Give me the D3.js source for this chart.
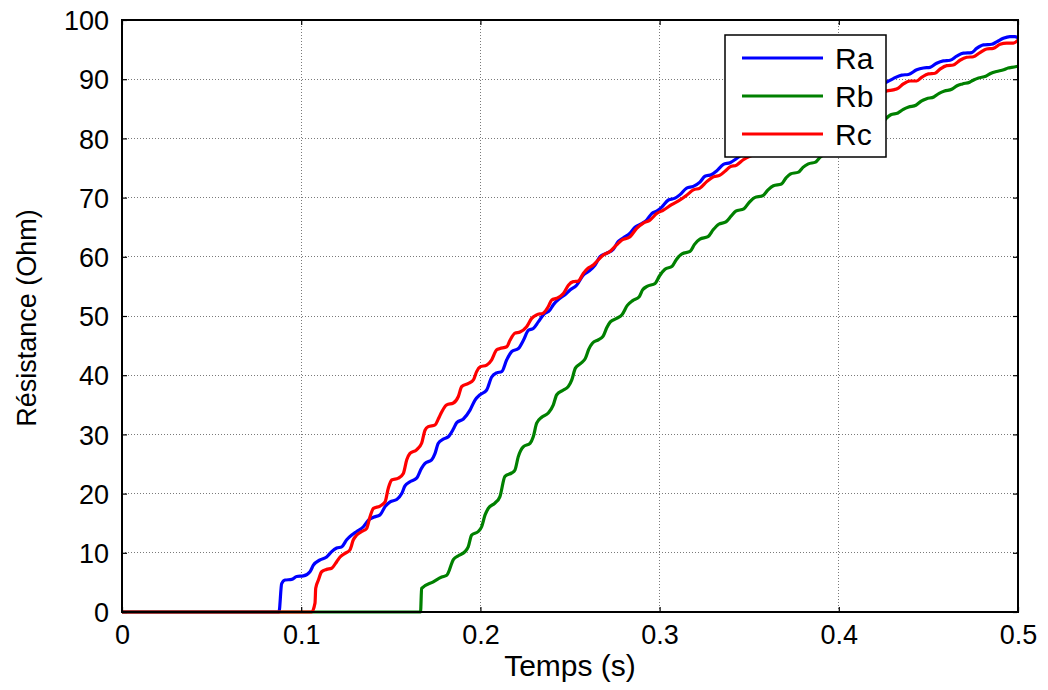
<!DOCTYPE html>
<html>
<head>
<meta charset="utf-8">
<script src="https://cdn.jsdelivr.net/npm/d3@7"></script>
<style>
  html, body { margin: 0; padding: 0; background: #fff; }
  svg { display: block; font-family: "Liberation Sans", Arial, Helvetica, sans-serif; }
</style>
</head>
<body>
<svg id="chart" width="1048" height="690"></svg>
<script>
// Phase resistances (Ohm) versus time (s)
const raTime = [0, 0.0876, 0.0891, 0.0910, 0.0947, 0.0975, 0.1012, 0.1049, 0.1068, 0.1105, 0.1142, 0.1170, 0.1198, 0.1226, 0.1254, 0.1282, 0.1310, 0.1347, 0.1375, 0.1403, 0.1440, 0.1468, 0.1496, 0.1533, 0.1561, 0.1579, 0.1607, 0.1644, 0.1672, 0.1691, 0.1728, 0.1747, 0.1765, 0.1793, 0.1821, 0.1849, 0.1868, 0.1905, 0.1942, 0.1970, 0.1998, 0.2035, 0.2063, 0.2091, 0.2119, 0.2147, 0.2175, 0.2212, 0.2240, 0.2268, 0.2295, 0.2323, 0.2351, 0.2388, 0.2407, 0.2444, 0.2472, 0.2500, 0.2537, 0.2574, 0.2602, 0.2640, 0.2667, 0.2705, 0.2742, 0.2770, 0.2798, 0.2835, 0.2863, 0.2900, 0.2928, 0.2956, 0.2984, 0.3012, 0.3049, 0.3086, 0.3114, 0.3151, 0.3188, 0.3225, 0.3253, 0.3291, 0.3318, 0.3356, 0.3393, 0.3430, 0.3467, 0.3550, 0.3650, 0.3750, 0.3850, 0.3950, 0.4050, 0.4150, 0.4230, 0.4267, 0.4304, 0.4351, 0.4388, 0.4435, 0.4472, 0.4509, 0.4546, 0.4583, 0.4621, 0.4658, 0.4695, 0.4742, 0.4769, 0.4807, 0.4853, 0.4881, 0.4918, 0.4955, 0.4983, 0.5000];
const raValue = [0, 0, 4.8, 5.4, 5.5, 6.0, 6.1, 6.8, 7.9, 8.8, 9.3, 10.2, 10.8, 11.0, 12.2, 13.0, 13.6, 14.4, 15.5, 16.0, 16.4, 17.8, 18.6, 19.0, 20.0, 21.3, 22.0, 22.6, 24.3, 25.1, 25.7, 26.8, 28.5, 29.2, 29.6, 30.9, 32.0, 32.6, 34.1, 35.8, 36.7, 37.5, 39.7, 40.4, 40.6, 42.6, 44.0, 44.5, 45.9, 47.6, 47.9, 49.0, 50.2, 51.0, 51.9, 53.0, 53.6, 54.4, 55.2, 56.9, 57.5, 58.6, 60.0, 60.6, 61.3, 62.6, 63.2, 64.0, 65.0, 65.6, 66.2, 67.3, 67.7, 68.4, 69.6, 69.9, 70.5, 71.6, 71.9, 72.6, 73.6, 73.9, 74.5, 75.6, 75.9, 76.6, 77.4, 78.6, 80.2, 81.8, 83.3, 84.8, 86.2, 87.6, 88.9, 89.5, 90.1, 90.7, 90.8, 91.6, 91.9, 92.0, 92.7, 93.1, 93.2, 93.9, 94.4, 94.5, 95.2, 95.8, 95.9, 96.3, 96.9, 97.2, 97.2, 97.0];

const rbTime = [0, 0.1666, 0.1672, 0.1737, 0.1784, 0.1812, 0.1850, 0.1877, 0.1914, 0.1932, 0.1951, 0.1988, 0.2007, 0.2026, 0.2044, 0.2081, 0.2109, 0.2137, 0.2175, 0.2193, 0.2211, 0.2239, 0.2277, 0.2295, 0.2314, 0.2342, 0.2379, 0.2407, 0.2426, 0.2463, 0.2491, 0.2510, 0.2530, 0.2560, 0.2585, 0.2605, 0.2625, 0.2660, 0.2685, 0.2705, 0.2725, 0.2760, 0.2790, 0.2820, 0.2850, 0.2885, 0.2905, 0.2930, 0.2975, 0.3000, 0.3030, 0.3070, 0.3095, 0.3125, 0.3170, 0.3195, 0.3225, 0.3270, 0.3300, 0.3330, 0.3370, 0.3400, 0.3425, 0.3470, 0.3500, 0.3530, 0.3575, 0.3605, 0.3635, 0.3680, 0.3705, 0.3730, 0.3775, 0.3800, 0.3830, 0.3870, 0.3895, 0.3925, 0.3965, 0.3990, 0.4015, 0.4055, 0.4080, 0.4105, 0.4145, 0.4170, 0.4195, 0.4235, 0.4262, 0.4290, 0.4330, 0.4360, 0.4390, 0.4430, 0.4460, 0.4490, 0.4530, 0.4560, 0.4590, 0.4630, 0.4660, 0.4690, 0.4730, 0.4755, 0.4780, 0.4820, 0.4850, 0.4880, 0.4920, 0.4945, 0.4965, 0.5000];
const rbValue = [0, 0, 4.0, 5.1, 5.9, 6.2, 8.9, 9.5, 10.2, 11.0, 13.0, 13.6, 14.4, 16.4, 17.5, 18.4, 19.5, 22.9, 23.5, 24.0, 26.2, 27.9, 28.5, 29.6, 31.9, 32.9, 33.6, 35.0, 36.7, 37.5, 38.1, 39.2, 41.2, 42.0, 42.8, 44.4, 45.4, 46.0, 46.6, 48.0, 49.0, 49.6, 50.2, 51.8, 52.6, 53.2, 54.4, 55.0, 55.5, 56.8, 57.9, 58.4, 59.6, 60.5, 60.9, 62.1, 63.0, 63.4, 64.6, 65.5, 65.9, 66.9, 67.7, 68.1, 69.2, 70.0, 70.3, 71.3, 72.0, 72.3, 73.3, 74.0, 74.3, 75.1, 75.7, 76.0, 76.8, 77.4, 77.7, 78.5, 79.0, 79.3, 80.0, 80.5, 80.8, 81.5, 81.9, 82.2, 83.3, 84.0, 84.3, 84.9, 85.3, 85.6, 86.3, 86.7, 87.0, 87.6, 88.0, 88.3, 88.9, 89.2, 89.5, 89.9, 90.2, 90.5, 91.0, 91.3, 91.6, 91.9, 92.0, 92.2];

const rcTime = [0, 0.1058, 0.1077, 0.1081, 0.1096, 0.1114, 0.1142, 0.1170, 0.1198, 0.1217, 0.1244, 0.1272, 0.1291, 0.1310, 0.1338, 0.1365, 0.1384, 0.1403, 0.1440, 0.1468, 0.1486, 0.1505, 0.1542, 0.1570, 0.1589, 0.1607, 0.1644, 0.1672, 0.1691, 0.1709, 0.1747, 0.1765, 0.1784, 0.1812, 0.1849, 0.1877, 0.1896, 0.1933, 0.1961, 0.1979, 0.1998, 0.2035, 0.2063, 0.2091, 0.2109, 0.2147, 0.2165, 0.2193, 0.2221, 0.2258, 0.2286, 0.2314, 0.2351, 0.2379, 0.2398, 0.2426, 0.2463, 0.2491, 0.2518, 0.2546, 0.2574, 0.2602, 0.2630, 0.2649, 0.2686, 0.2723, 0.2760, 0.2788, 0.2835, 0.2872, 0.2909, 0.2946, 0.2984, 0.3021, 0.3067, 0.3114, 0.3151, 0.3188, 0.3225, 0.3263, 0.3300, 0.3337, 0.3374, 0.3393, 0.3430, 0.3467, 0.3550, 0.3650, 0.3750, 0.3850, 0.3950, 0.4050, 0.4150, 0.4230, 0.4267, 0.4304, 0.4332, 0.4360, 0.4397, 0.4435, 0.4462, 0.4500, 0.4537, 0.4565, 0.4602, 0.4639, 0.4676, 0.4714, 0.4751, 0.4788, 0.4825, 0.4862, 0.4900, 0.4937, 0.4974, 0.5000];
const rcValue = [0, 0, 1.5, 4.0, 5.4, 6.8, 7.2, 7.4, 8.5, 9.3, 9.9, 10.5, 12.2, 13.0, 13.6, 14.1, 16.1, 17.5, 17.9, 18.6, 20.9, 22.3, 22.6, 23.4, 25.7, 26.8, 27.4, 28.5, 30.7, 31.3, 31.6, 32.6, 33.8, 35.0, 35.3, 36.4, 38.1, 38.6, 39.2, 40.6, 41.4, 41.7, 42.6, 44.3, 44.5, 44.8, 45.9, 47.1, 47.3, 48.2, 49.6, 50.2, 50.5, 51.6, 52.7, 53.0, 53.8, 55.2, 55.8, 55.9, 57.2, 58.1, 58.6, 59.2, 60.3, 60.9, 62.0, 62.8, 63.4, 64.8, 65.7, 66.2, 67.3, 67.9, 68.8, 69.6, 70.4, 71.3, 71.6, 72.7, 73.5, 73.8, 74.7, 75.2, 75.5, 76.4, 77.6, 79.2, 80.7, 82.2, 83.6, 85.0, 86.4, 87.4, 88.0, 88.2, 88.5, 89.2, 89.7, 89.7, 90.3, 90.9, 91.0, 91.7, 92.3, 92.4, 93.2, 93.7, 93.8, 94.5, 95.1, 95.2, 95.9, 96.1, 96.1, 96.6];

const seriesNames = ["Ra", "Rb", "Rc"];
const seriesColors = ["#0000ff", "#008000", "#ff0000"];
const xTicks = [0, 0.1, 0.2, 0.3, 0.4, 0.5];
const yTicks = [0, 10, 20, 30, 40, 50, 60, 70, 80, 90, 100];
const xLabel = "Temps (s)";
const yLabel = "Résistance (Ohm)";

const series = [
  { name: seriesNames[0], color: seriesColors[0], pts: raTime.map((t, i) => [t, raValue[i]]) },
  { name: seriesNames[1], color: seriesColors[1], pts: rbTime.map((t, i) => [t, rbValue[i]]) },
  { name: seriesNames[2], color: seriesColors[2], pts: rcTime.map((t, i) => [t, rcValue[i]]) }
];

const svg = d3.select("#chart");
const m = { left: 122, top: 20, right: 1018, bottom: 612 };
const x = d3.scaleLinear().domain([0, 0.5]).range([m.left, m.right]);
const y = d3.scaleLinear().domain([0, 100]).range([m.bottom, m.top]);
const W = m.right - m.left, H = m.bottom - m.top;

// dotted grid
const grid = svg.append("g").attr("stroke", "#7a7a7a").attr("stroke-width", 1)
  .attr("stroke-dasharray", "1,2").attr("shape-rendering", "crispEdges");
grid.selectAll(".gx").data(xTicks.slice(1, -1)).join("line")
  .attr("x1", d => x(d)).attr("x2", d => x(d)).attr("y1", m.top).attr("y2", m.bottom);
grid.selectAll(".gy").data(yTicks.slice(1, -1)).join("line")
  .attr("y1", d => y(d)).attr("y2", d => y(d)).attr("x1", m.left).attr("x2", m.right);

// curves
svg.append("clipPath").attr("id", "plotclip").append("rect")
  .attr("x", m.left).attr("y", m.top - 2).attr("width", W).attr("height", H + 4);
const line = d3.line().x(d => x(d[0])).y(d => y(d[1])).curve(d3.curveMonotoneX);
svg.append("g").attr("clip-path", "url(#plotclip)")
  .selectAll("path").data(series).join("path")
  .attr("d", d => line(d.pts))
  .attr("fill", "none")
  .attr("stroke", d => d.color)
  .attr("stroke-width", 3.2)
  .attr("stroke-linejoin", "round")
  .attr("stroke-linecap", "round");

// axes with inward ticks on all four sides
const fontSize = 27;
const fontFamily = "'Liberation Sans', Arial, Helvetica, sans-serif";
const axB = d3.axisBottom(x).tickValues(xTicks).tickSizeInner(-5).tickSizeOuter(0)
  .tickFormat(d => d === 0 ? "0" : d3.format(".1f")(d));
const axT = d3.axisTop(x).tickValues(xTicks).tickSizeInner(-5).tickSizeOuter(0).tickFormat("");
const axL = d3.axisLeft(y).tickValues(yTicks).tickSizeInner(-5).tickSizeOuter(0);
const axR = d3.axisRight(y).tickValues(yTicks).tickSizeInner(-5).tickSizeOuter(0).tickFormat("");

function styleAxis(g) {
  g.select(".domain").remove();
  g.selectAll(".tick line").attr("stroke", "#000").attr("stroke-width", 1.2);
  g.selectAll(".tick text").attr("fill", "#000").style("font-size", fontSize + "px")
    .style("font-family", fontFamily);
}
svg.append("g").attr("transform", `translate(0,${m.bottom})`).call(axB).call(styleAxis)
  .selectAll(".tick text").attr("dy", 0).attr("y", 32);
svg.append("g").attr("transform", `translate(0,${m.top})`).call(axT).call(styleAxis);
svg.append("g").attr("transform", `translate(${m.left},0)`).call(axL).call(styleAxis)
  .selectAll(".tick text").attr("x", -13).attr("dy", "0.36em");
svg.append("g").attr("transform", `translate(${m.right},0)`).call(axR).call(styleAxis);

// plot frame
svg.append("rect").attr("x", m.left).attr("y", m.top).attr("width", W).attr("height", H)
  .attr("fill", "none").attr("stroke", "#000").attr("stroke-width", 2);

// axis titles
svg.append("text").attr("x", 570).attr("y", 676)
  .attr("text-anchor", "middle").style("font-size", "30px").attr("fill", "#000").text(xLabel);
svg.append("text").attr("transform", `translate(36,${(m.top + m.bottom) / 2 + 2}) rotate(-90)`)
  .attr("text-anchor", "middle").style("font-size", "27px").attr("fill", "#000").text(yLabel);

// legend
const lg = svg.append("g");
const lgBox = { x: 725, y: 35, w: 161, h: 122 };
lg.append("rect").attr("x", lgBox.x).attr("y", lgBox.y).attr("width", lgBox.w).attr("height", lgBox.h)
  .attr("fill", "#fff").attr("stroke", "#000").attr("stroke-width", 1.5);
const rowY = [58, 96, 134];
const rows = lg.selectAll(".row").data(series).join("g")
  .attr("transform", (d, i) => `translate(0,${rowY[i]})`);
rows.append("line").attr("x1", 742).attr("x2", 823).attr("y1", 0).attr("y2", 0)
  .attr("stroke", d => d.color).attr("stroke-width", 3.2);
rows.append("text").attr("x", 835).attr("y", 11).style("font-size", "30px").attr("fill", "#000")
  .text(d => d.name);
</script>
</body>
</html>
